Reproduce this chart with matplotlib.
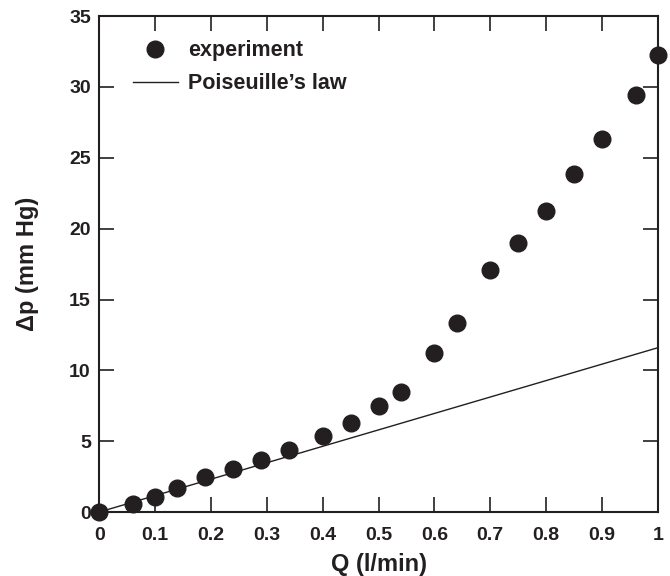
import matplotlib.pyplot as plt

plt.rcParams['font.family'] = ['Liberation Sans', 'DejaVu Sans']
plt.rcParams['font.weight'] = 'bold'

# experiment data
q_exp = [0.0, 0.06, 0.10, 0.14, 0.19, 0.24, 0.29, 0.34, 0.40, 0.45, 0.50,
         0.54, 0.60, 0.64, 0.70, 0.75, 0.80, 0.85, 0.90, 0.96, 1.0]
dp_exp = [0.0, 0.56, 1.08, 1.67, 2.45, 3.01, 3.67, 4.38, 5.34, 6.26, 7.5,
          8.49, 11.2, 13.34, 17.1, 18.96, 21.24, 23.83, 26.3, 29.4, 32.25]

# Poiseuille's law line
q_law = [0.0, 1.0]
dp_law = [0.0, 11.6]

x_ticks = [0, 0.1, 0.2, 0.3, 0.4, 0.5, 0.6, 0.7, 0.8, 0.9, 1.0]
x_labels = ["0", "0.1", "0.2", "0.3", "0.4", "0.5", "0.6", "0.7", "0.8", "0.9", "1"]
y_ticks = [0, 5, 10, 15, 20, 25, 30, 35]

ink = "#231f20"

fig = plt.figure(figsize=(6.7, 5.76), dpi=100)
ax = fig.add_axes([0.148, 0.111, 0.834, 0.861])

ax.plot(q_exp, dp_exp, "o", color=ink, markersize=12, clip_on=False,
        zorder=3, label="experiment")
ax.plot(q_law, dp_law, "-", color=ink, linewidth=1.0, label="Poiseuille\u2019s law")

ax.set_xlim(0, 1)
ax.set_ylim(0, 35)
ax.set_xticks(x_ticks)
ax.set_xticklabels(x_labels)
ax.set_yticks(y_ticks)

ax.tick_params(direction="in", length=11, width=1.2, color=ink,
               top=True, right=True, labelsize=14, labelcolor=ink)
ax.tick_params(axis="x", pad=11)
ax.tick_params(axis="y", pad=6)
for s in ax.spines.values():
    s.set_linewidth(1.5)
    s.set_color(ink)

ax.set_xlabel("Q (l/min)", fontsize=17, fontweight="bold", color=ink, labelpad=6)
ax.set_ylabel("\u0394p (mm Hg)", fontsize=17, fontweight="bold", color=ink, labelpad=22)

leg = ax.legend(loc="upper left", frameon=False, fontsize=15.5,
                bbox_to_anchor=(0.025, 0.99), handlelength=2.1, handletextpad=0.5,
                labelspacing=0.55)
for t in leg.get_texts():
    t.set_color(ink)

plt.savefig("out.png", dpi=100)
